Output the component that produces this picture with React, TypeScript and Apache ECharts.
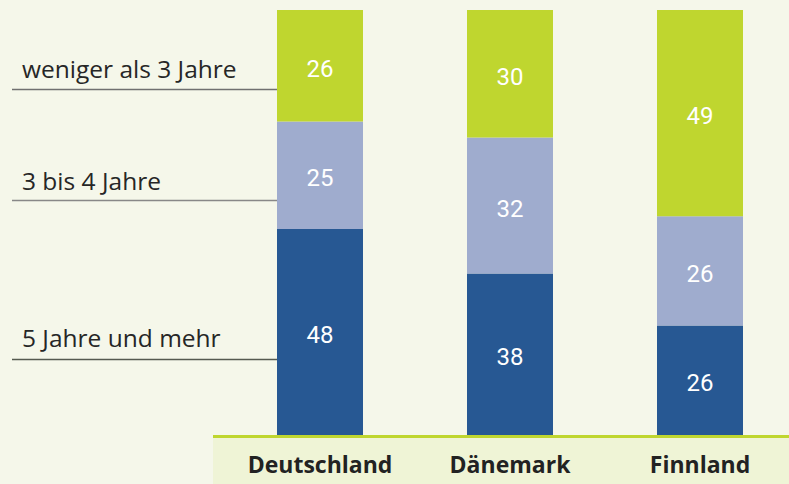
import React, { useEffect, useRef } from "react";
import * as echarts from "echarts";

const categories = ["Deutschland", "Dänemark", "Finnland"];
const seriesNames = ["5 Jahre und mehr", "3 bis 4 Jahre", "weniger als 3 Jahre"];
const fiveYearsPlus = [48, 38, 26];
const threeToFour = [25, 32, 26];
const lessThanThree = [26, 30, 49];
const colors = ["#275893", "#9facce", "#bfd62f"];

export default function App() {
  const ref = useRef<HTMLDivElement>(null);
  useEffect(() => {
    if (!ref.current) return;
    const chart = echarts.init(ref.current, undefined, { renderer: "svg" });
    const all = [fiveYearsPlus, threeToFour, lessThanThree];
    const totals = categories.map((_, i) => all.reduce((s, arr) => s + arr[i], 0));
    const series = all.map((arr, k) => ({
      name: seriesNames[k],
      type: "bar",
      stack: "total",
      barWidth: 86,
      itemStyle: { color: colors[k] },
      label: {
        show: true,
        position: "inside",
        offset: [0, 3],
        color: "#ffffff",
        fontFamily: "Roboto",
        fontWeight: 400,
        fontSize: 24,
        formatter: (p: any) => String(p.data.raw),
      },
      data: arr.map((v, i) => ({ value: (v / totals[i]) * 100, raw: v })),
    }));
    const labelStyle = { fontFamily: "Open Sans", fontSize: 24.5, fill: "#262626" };
    chart.setOption({
      animation: false,
      backgroundColor: "#f5f7ea",
      grid: { left: 225, top: 10, right: 0, bottom: 49 },
      xAxis: {
        type: "category",
        data: categories,
        axisLine: { show: false },
        axisTick: { show: false },
        axisLabel: {
          interval: 0,
          hideOverlap: false,
          margin: 17,
          color: "#222222",
          fontFamily: "Open Sans",
          fontWeight: "bold",
          fontSize: 23,
        },
      },
      yAxis: { type: "value", min: 0, max: 100, show: false, splitLine: { show: false } },
      graphic: [
        { type: "rect", shape: { x: 213, y: 437, width: 600, height: 47 }, style: { fill: "#eff4d6" }, z: -1 },
        { type: "line", shape: { x1: 213, y1: 436.5, x2: 800, y2: 436.5 }, style: { stroke: "#bfd62f", lineWidth: 3 } },
        { type: "text", x: 22, y: 68, style: { ...labelStyle, text: "weniger als 3 Jahre", verticalAlign: "middle" } },
        { type: "line", shape: { x1: 12, y1: 89.5, x2: 277, y2: 89.5 }, style: { stroke: "#707070", lineWidth: 1.5 } },
        { type: "text", x: 22, y: 180, style: { ...labelStyle, text: "3 bis 4 Jahre", verticalAlign: "middle" } },
        { type: "line", shape: { x1: 12, y1: 200.5, x2: 277, y2: 200.5 }, style: { stroke: "#888888", lineWidth: 1.5 } },
        { type: "text", x: 22, y: 337, style: { ...labelStyle, text: "5 Jahre und mehr", verticalAlign: "middle" } },
        { type: "line", shape: { x1: 12, y1: 359.5, x2: 277, y2: 359.5 }, style: { stroke: "#555a50", lineWidth: 1.5 } },
      ],
      series,
    });
    return () => chart.dispose();
  }, []);
  return (
    <div
      ref={ref}
      style={{ position: "fixed", left: 0, top: 0, width: 795, height: 484 }}
    />
  );
}
